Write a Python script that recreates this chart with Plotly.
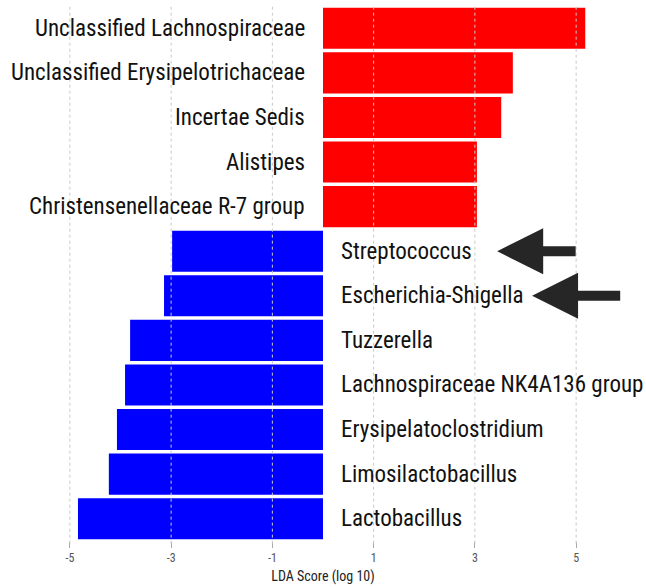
import plotly.graph_objects as go

taxa = [
    "Unclassified Lachnospiraceae",
    "Unclassified Erysipelotrichaceae",
    "Incertae Sedis",
    "Alistipes",
    "Christensenellaceae R-7 group",
    "Streptococcus",
    "Escherichia-Shigella",
    "Tuzzerella",
    "Lachnospiraceae NK4A136 group",
    "Erysipelatoclostridium",
    "Limosilactobacillus",
    "Lactobacillus",
]
lda = [5.18, 3.75, 3.52, 3.04, 3.04, -2.98, -3.14, -3.81, -3.91, -4.07, -4.23, -4.84]
tick_vals = [-5, -3, -1, 1, 3, 5]
tick_text = ["-5", "-3", "-1", "1", "3", "5"]
highlighted = ["Streptococcus", "Escherichia-Shigella"]
arrow_tip = [3.44, 4.13]
arrow_tail = [5.02, 5.9]

colors = ["#ff0000" if v > 0 else "#0000ff" for v in lda]
narrow = "Liberation Sans Narrow, Arial Narrow, Roboto Condensed, sans-serif"

fig = go.Figure()
fig.add_trace(go.Bar(
    x=lda, y=taxa, orientation="h",
    marker=dict(color=colors, line=dict(width=0)),
    showlegend=False, hoverinfo="x+y",
))

label_font = dict(family=narrow, size=23, color="#111111")
for name, v in zip(taxa, lda):
    fig.add_annotation(
        x=0, y=name, xref="x", yref="y", text=name, showarrow=False,
        xanchor="right" if v > 0 else "left",
        xshift=-16 if v > 0 else 16,
        font=label_font,
    )

for name, tip, tail in zip(highlighted, arrow_tip, arrow_tail):
    fig.add_annotation(
        x=tip, y=name, ax=tail, ay=name, xref="x", yref="y", axref="x", ayref="y",
        text="", showarrow=True, arrowhead=2, arrowsize=0.92, arrowwidth=10,
        arrowcolor="#262626", standoff=0,
    )

# dotted grid drawn above the bars, as in the reference
for t in tick_vals:
    fig.add_shape(type="line", xref="x", yref="paper", x0=t, x1=t, y0=-0.005, y1=1.0,
                  layer="above", line=dict(color="#c8c8c8", width=1, dash="dot"))

fig.update_layout(
    width=646, height=588,
    margin=dict(l=0, r=0, t=6, b=47),
    plot_bgcolor="white", paper_bgcolor="white",
    bargap=0.08,
    xaxis=dict(
        range=[-6.38, 6.38], tickvals=tick_vals, ticktext=tick_text,
        showgrid=False,
        zeroline=False, showline=False,
        ticks="outside", ticklen=6, tickcolor="#aaaaaa", tickwidth=1,
        tickfont=dict(family=narrow, size=12, color="#555555"),
        title=dict(text="LDA Score (log 10)", standoff=6,
                   font=dict(family=narrow, size=14, color="#222222")),
    ),
    yaxis=dict(autorange="reversed", showticklabels=False, showgrid=False, zeroline=False),
)

fig.write_html("out.html")
